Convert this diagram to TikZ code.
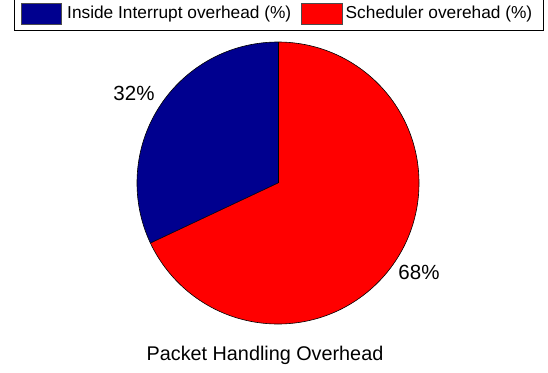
\documentclass[tikz,border=0pt]{standalone}
\usepackage{fontspec}
\setmainfont{Liberation Sans}
\definecolor{sliceblue}{RGB}{0,0,143}
\definecolor{slicered}{RGB}{255,0,0}
\begin{document}
\begin{tikzpicture}[x=1pt,y=-1pt,
  slice/.style={draw=black,line width=0.6pt,line join=round},
  swatch/.style={draw=black!70,line width=0.6pt},
  legendtext/.style={anchor=west,inner sep=0pt,font=\fontsize{17.3}{20}\selectfont},
  pctlabel/.style={inner sep=0pt,font=\fontsize{20.5}{24}\selectfont}]
\useasboundingbox (0,0) rectangle (548,372);
% pie chart (y axis points down, so angles run clockwise)
\coordinate (c) at (278,183);
\fill[slicered] (c) -- ++(-90:141) arc[start angle=-90,end angle=154.8,radius=141] -- cycle;
\fill[sliceblue] (c) -- ++(-90:141) arc[start angle=-90,end angle=-205.2,radius=141] -- cycle;
\draw[slice] (c) -- ++(-90:141);
\draw[slice] (c) -- ++(-205.2:141);
\draw[slice] (c) circle[radius=141];
% slice labels
\node[pctlabel] (p32) at (134,93) {32\%};
\node[pctlabel] (p68) at (419,272) {68\%};
% title
\node[inner sep=0pt,font=\fontsize{19.8}{24}\selectfont] (title) at (265,355) {Packet Handling Overhead};
% legend
\draw[line width=0.8pt] (14.5,-2) rectangle (543,30.5);
\filldraw[swatch,fill=sliceblue] (21,3.5) rectangle (61,24);
\node[legendtext] (l1) at (67,14) {Inside Interrupt overhead (\%)};
\filldraw[swatch,fill=slicered] (301,3.5) rectangle (342,24);
\node[legendtext] (l2) at (345.5,14) {Scheduler overehad (\%)};
\end{tikzpicture}
\end{document}
